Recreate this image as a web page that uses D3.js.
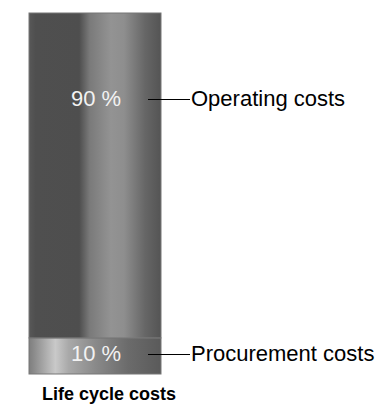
<!DOCTYPE html>
<html>
<head>
<meta charset="utf-8">
<script src="https://cdn.jsdelivr.net/npm/d3@7"></script>
<style>
  body { margin: 0; background: #fff; }
  svg { display: block; }
</style>
</head>
<body>
<script>
// data
const categories = ["Procurement costs", "Operating costs"];
const shares = [10, 90];
const shareLabels = ["10 %", "90 %"];
const labelAt = [5.5, 76.3]; // where the label + leader line sits, in % units
const title = "Life cycle costs";

const width = 376;
const height = 405;

const svg = d3.select("body")
    .append("svg")
    .attr("width", width)
    .attr("height", height);

const yScale = d3.scaleLinear()
    .domain([0, 100])
    .range([374, 13]);

const xScale = d3.scaleBand()
    .domain([title])
    .range([29, 161]);

// shaded cylinder look
const defs = svg.append("defs");
const grads = [
    [[0, "#7e7e7e"], [0.04, "#8c8c8c"], [0.2, "#c9c9c9"], [0.3, "#a9a9a9"], [0.5, "#8a8a8a"], [0.75, "#6b6b6b"], [1, "#5a5a5a"]],
    [[0, "#585858"], [0.05, "#4f4f4f"], [0.38, "#4e4e4e"], [0.46, "#7a7a7a"], [0.62, "#939393"], [0.72, "#8e8e8e"], [0.88, "#666"], [1, "#545454"]]
];
grads.forEach((stops, i) => {
    defs.append("linearGradient")
        .attr("id", "g" + i)
        .attr("x1", "0").attr("x2", "1").attr("y1", "0").attr("y2", "0")
        .selectAll("stop")
        .data(stops)
        .join("stop")
        .attr("offset", d => d[0])
        .attr("stop-color", d => d[1]);
});

const stacked = [];
let acc = 0;
shares.forEach((v, i) => {
    stacked.push({ cat: categories[i], label: shareLabels[i], y0: acc, y1: acc + v, at: labelAt[i], i: i });
    acc += v;
});

svg.selectAll("rect.seg")
    .data(stacked)
    .join("rect")
    .attr("class", "seg")
    .attr("x", xScale(title))
    .attr("width", xScale.bandwidth())
    .attr("y", d => yScale(d.y1))
    .attr("height", d => yScale(d.y0) - yScale(d.y1))
    .attr("fill", d => "url(#g" + d.i + ")")
    .attr("stroke", "#777")
    .attr("stroke-width", 1);

const cx = xScale(title) + xScale.bandwidth() / 2;
const right = xScale(title) + xScale.bandwidth();

svg.selectAll("text.pct")
    .data(stacked)
    .join("text")
    .attr("class", "pct")
    .attr("x", cx + 1)
    .attr("y", d => yScale(d.at) + 7)
    .attr("text-anchor", "middle")
    .attr("font-family", "Liberation Sans, Arial, sans-serif")
    .attr("font-size", 22)
    .attr("fill", "#f2f2f2")
    .text(d => d.label);

svg.selectAll("line.lead")
    .data(stacked)
    .join("line")
    .attr("class", "lead")
    .attr("x1", right - 13)
    .attr("x2", right + 29)
    .attr("y1", d => Math.round(yScale(d.at)) + 0.5)
    .attr("y2", d => Math.round(yScale(d.at)) + 0.5)
    .attr("stroke", "#000")
    .attr("stroke-width", 1.2);

svg.selectAll("text.cat")
    .data(stacked)
    .join("text")
    .attr("class", "cat")
    .attr("x", right + 30)
    .attr("y", d => yScale(d.at) + 7)
    .attr("font-family", "Liberation Sans, Arial, sans-serif")
    .attr("font-size", 22)
    .attr("fill", "#000")
    .text(d => d.cat);

svg.append("text")
    .attr("x", 42)
    .attr("y", 400)
    .attr("font-family", "Liberation Sans, Arial, sans-serif")
    .attr("font-size", 18)
    .attr("font-weight", "bold")
    .text(title);
</script>
</body>
</html>
